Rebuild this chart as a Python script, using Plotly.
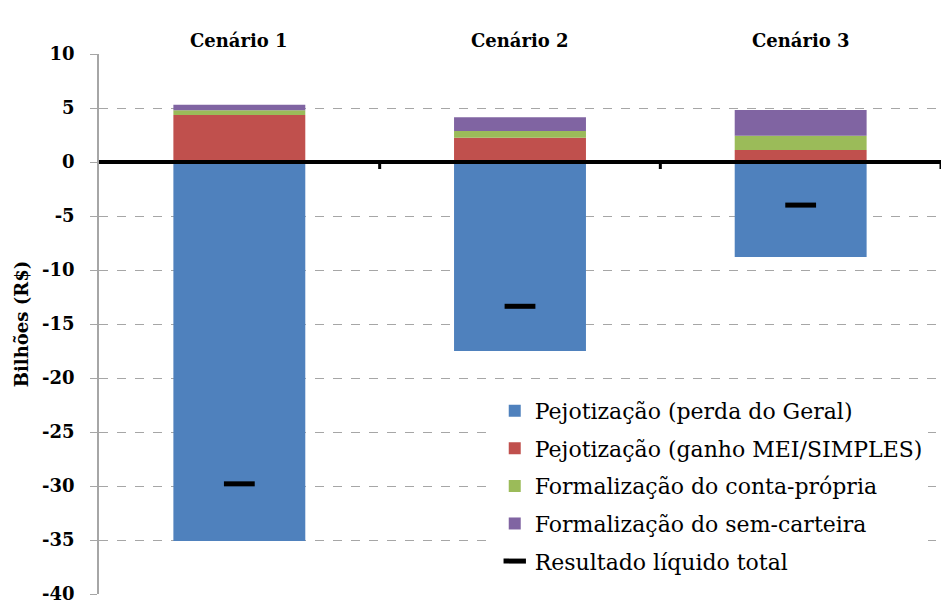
import plotly.graph_objects as go

categories = ["Cenário 1", "Cenário 2", "Cenário 3"]
perda_geral = [-35.1, -17.5, -8.8]
ganho_mei = [4.35, 2.25, 1.11]
conta_propria = [0.45, 0.62, 1.33]
sem_carteira = [0.5, 1.27, 2.37]
resultado = [-29.8, -13.36, -3.99]
series_names = [
    "Pejotização (perda do Geral)",
    "Pejotização (ganho MEI/SIMPLES)",
    "Formalização do conta-própria",
    "Formalização do sem-carteira",
    "Resultado líquido total",
]
y_ticks = [10, 5, 0, -5, -10, -15, -20, -25, -30, -35, -40]

colors = ["#4F81BD", "#C0504D", "#9BBB59", "#8064A2"]
serif = "DejaVu Serif"
xs = list(range(len(categories)))

fig = go.Figure()
for i, vals in enumerate([perda_geral, ganho_mei, conta_propria, sem_carteira]):
    fig.add_trace(go.Bar(
        x=xs, y=vals, name=series_names[i], width=0.47,
        marker=dict(color=colors[i], line=dict(width=0)),
        legendgroup=f"g{i}",
    ))
fig.add_trace(go.Scatter(
    x=xs, y=resultado, mode="markers", name=series_names[4],
    marker=dict(symbol="line-ew", size=22, line=dict(color="black", width=5)),
    legendgroup="g4",
))

shapes = [dict(type="line", xref="paper", yref="y", x0=0, x1=1, y0=0, y1=0,
               line=dict(color="black", width=4), layer="above")]
for b in [0.5, 1.5, 2.5]:
    shapes.append(dict(type="line", xref="x", yref="y", x0=b, x1=b, y0=0, y1=-0.65,
                       line=dict(color="black", width=3), layer="above"))

annotations = [dict(x=x, y=1.0, xref="x", yref="paper", yshift=26, text=f"<b>{c}</b>",
                    showarrow=False, font=dict(family=serif, size=18, color="black"))
               for x, c in zip(xs, categories)]

fig.update_layout(
    width=943, height=595,
    margin=dict(l=91, r=10, t=46, b=9),
    barmode="relative",
    plot_bgcolor="white", paper_bgcolor="white",
    font=dict(family=serif, color="black"),
    shapes=shapes,
    annotations=annotations,
    showlegend=True,
    legend=dict(x=0.47, y=0.378, xanchor="left", yanchor="top",
                bgcolor="white", font=dict(family=serif, size=22, color="black"),
                tracegroupgap=6, traceorder="grouped", itemwidth=30),
    xaxis=dict(range=[-0.5, 2.5], showticklabels=False, showgrid=False,
               zeroline=False, showline=False, ticks=""),
    yaxis=dict(range=[-40, 10], tickvals=y_ticks, ticktext=[f"<b>{v}</b>" for v in y_ticks],
               tickfont=dict(family=serif, size=18, color="black"),
               ticklabeloverflow="allow", automargin=False, ticklabelstandoff=12,
               showgrid=True, gridcolor="#A6A6A6", griddash="dash", gridwidth=1,
               showline=True, linecolor="#A6A6A6", linewidth=1.5,
               ticks="outside", ticklen=7, tickcolor="#A6A6A6",
               zeroline=False,
               title=dict(text="<b>Bilhões (R$)</b>", font=dict(family=serif, size=18, color="black"),
                          standoff=9)),
)

fig.write_html("out.html")
